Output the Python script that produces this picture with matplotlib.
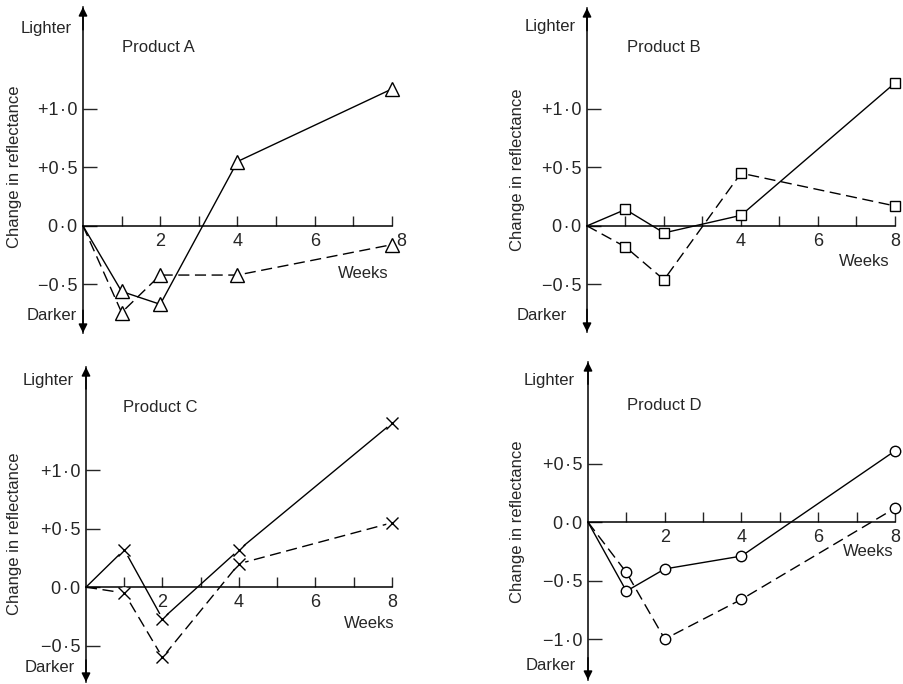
import matplotlib
matplotlib.use('Agg')
import matplotlib.pyplot as plt
import matplotlib.transforms as mtransforms

WIDTH, HEIGHT = 904, 684

# weeks of storage, change in reflectance (solid and dashed series)
weeks = [0, 1, 2, 4, 8]
a_solid = [0, -0.56, -0.67, 0.55, 1.17]
a_dashed = [0, -0.74, -0.42, -0.42, -0.16]
b_solid = [0, 0.14, -0.06, 0.09, 1.22]
b_dashed = [0, -0.18, -0.46, 0.45, 0.17]
c_solid = [0, 0.32, -0.27, 0.32, 1.40]
c_dashed = [0, -0.05, -0.60, 0.20, 0.55]
d_solid = [0, -0.59, -0.40, -0.29, 0.61]
d_dashed = [0, -0.43, -1.00, -0.66, 0.12]

DOT = '\u200a·\u200a'
ytick_abc = [1.0, 0.5, 0.0, -0.5]
ytick_abc_labels = ['+1' + DOT + '0', '+0' + DOT + '5', '0' + DOT + '0', '−0' + DOT + '5']
ytick_d = [0.5, 0.0, -0.5, -1.0]
ytick_d_labels = ['+0' + DOT + '5', '0' + DOT + '0', '−0' + DOT + '5', '−1' + DOT + '0']

plt.rcParams['font.family'] = ['Liberation Sans', 'DejaVu Sans']
plt.rcParams['font.size'] = 12
INK = '#262626'


def px_box(left, right, top, bottom):
    """Axes rectangle from pixel edges (y from top)."""
    return [left / WIDTH, 1 - bottom / HEIGHT, (right - left) / WIDTH, (bottom - top) / HEIGHT]


def fig_text(fig, x, y, s, **kw):
    fig.text(x / WIDTH, 1 - y / HEIGHT, s, color=INK, **kw)


def draw_panel(ax, solid, dashed, marker, ms, ylim, yticks, ylabels, xlabels):
    ax.set_xlim(0, 8)
    ax.set_ylim(*ylim)
    for side in ('top', 'right'):
        ax.spines[side].set_visible(False)
    ax.spines['left'].set_position(('data', 0))
    ax.spines['bottom'].set_position(('data', 0))
    for side in ('left', 'bottom'):
        ax.spines[side].set_linewidth(1.1)
        ax.spines[side].set_color('black')

    ax.set_yticks(yticks)
    ax.set_yticklabels(ylabels)
    ax.set_xticks([1, 2, 3, 4, 5, 6, 7, 8])
    ax.set_xticklabels([str(w) if w in xlabels else '' for w in range(1, 9)])
    ax.tick_params(axis='y', direction='in', length=10, width=1, pad=4, colors=INK, labelsize=13)
    ax.tick_params(axis='x', direction='in', length=7, width=1, pad=5, colors=INK, labelsize=13)

    for values, style in ((solid, '-'), (dashed, (0, (8, 4)))):
        ax.plot(weeks, values, color='black', lw=1.0, linestyle=style, zorder=3, clip_on=False)
        if marker == 'x':
            ax.plot(weeks[1:], values[1:], linestyle='none', marker='o', ms=ms + 1,
                    mfc='white', mec='none', zorder=4, clip_on=False)
            ax.plot(weeks[1:], values[1:], linestyle='none', marker='x', ms=ms,
                    mec='black', mew=1.0, zorder=5, clip_on=False)
        else:
            ax.plot(weeks[1:], values[1:], linestyle='none', marker=marker, ms=ms,
                    mfc='white', mec='black', mew=1.0, zorder=5, clip_on=False)

    # arrow heads on the vertical axis
    trans = ax.get_xaxis_transform()
    arrow = dict(arrowstyle='-|>', color='black', lw=1.1, mutation_scale=13, shrinkA=0, shrinkB=0)
    ax.annotate('', xy=(0, 1), xytext=(0, 0.93), xycoords=trans, textcoords=trans,
                arrowprops=arrow, annotation_clip=False)
    ax.annotate('', xy=(0, 0), xytext=(0, 0.07), xycoords=trans, textcoords=trans,
                arrowprops=arrow, annotation_clip=False)


fig = plt.figure(figsize=(WIDTH / 100, HEIGHT / 100), dpi=100)

ax_a = fig.add_axes(px_box(83, 392, 7, 333))
draw_panel(ax_a, a_solid, a_dashed, '^', 10, (-0.915, 1.87), ytick_abc, ytick_abc_labels, [2, 4, 6, 8])
shift = mtransforms.ScaledTranslation(7 / 72, 0, fig.dpi_scale_trans)
last = ax_a.get_xticklabels()[-1]
last.set_transform(last.get_transform() + shift)

ax_b = fig.add_axes(px_box(587, 895, 8, 332))
draw_panel(ax_b, b_solid, b_dashed, 's', 7.5, (-0.906, 1.86), ytick_abc, ytick_abc_labels, [4, 6, 8])

ax_c = fig.add_axes(px_box(86, 392, 367, 682))
draw_panel(ax_c, c_solid, c_dashed, 'x', 8, (-0.81, 1.88), ytick_abc, ytick_abc_labels, [2, 4, 6, 8])

ax_d = fig.add_axes(px_box(588, 895, 362, 680))
draw_panel(ax_d, d_solid, d_dashed, 'o', 7.5, (-1.35, 1.37), ytick_d, ytick_d_labels, [2, 4, 6, 8])

# panel labels (pixel positions from the reference)
labels = [
    # lighter x, y; darker x, y; product x, y; weeks x, y; ylabel x, y; name
    (72, 28, 77, 316, 122, 48, 389, 273, 15, 167, 'Product A'),
    (576, 27, 567, 315, 627, 47, 890, 262, 518, 170, 'Product B'),
    (74, 380, 75, 667, 123, 407, 395, 624, 15, 534, 'Product C'),
    (575, 380, 576, 665, 627, 406, 894, 552, 518, 522, 'Product D'),
]
for lx, ly, dx, dy, px, py, wx, wy, yx, yy, name in labels:
    fig_text(fig, lx, ly, 'Lighter', ha='right', va='center', fontsize=12)
    fig_text(fig, dx, dy, 'Darker', ha='right', va='center', fontsize=12)
    fig_text(fig, px, py, name, ha='left', va='center', fontsize=12)
    fig_text(fig, wx, wy, 'Weeks', ha='right', va='center', fontsize=12)
    fig_text(fig, yx, yy, 'Change in reflectance', ha='center', va='center',
             rotation=90, fontsize=12)

fig.savefig('out.png', dpi=100, facecolor='white')
